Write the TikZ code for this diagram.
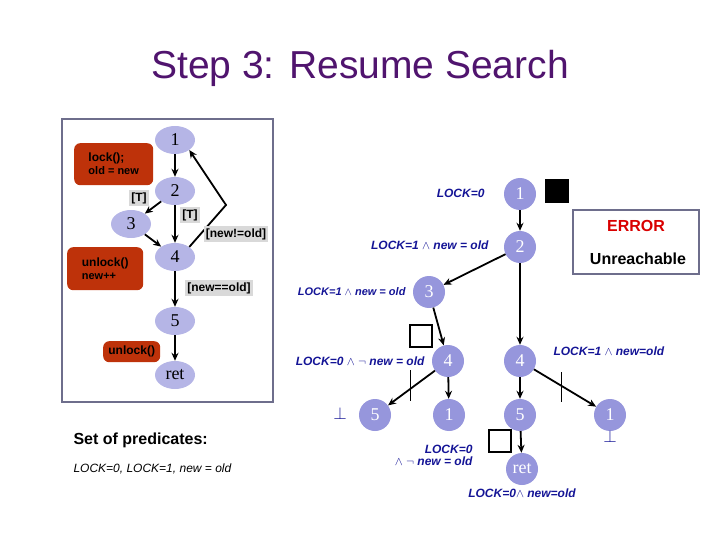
\documentclass[tikz,border=0pt]{standalone}
\usepackage{fontspec}
\setmainfont{Liberation Sans}
\usetikzlibrary{arrows.meta,shapes.geometric}
\definecolor{navy}{RGB}{20,20,150}
\definecolor{ttl}{RGB}{80,20,110}
\definecolor{nodec}{RGB}{150,150,220}
\definecolor{orng}{RGB}{190,50,10}
\definecolor{frm}{RGB}{110,110,140}
\begin{document}
\begin{tikzpicture}[x=1pt,y=-1pt,
  cfn/.style={ellipse,fill=nodec!70,minimum width=40,minimum height=28,inner sep=0,font=\fontspec{Liberation Serif}\fontsize{18}{18}\selectfont},
  tn/.style={circle,fill=nodec,minimum size=32,inner sep=0,text=white,font=\fontspec{Liberation Serif}\fontsize{18}{18}\selectfont},
  ed/.style={-{Stealth[length=8pt,width=7pt]},line width=1.8pt},
  act/.style={rounded corners=6pt,fill=orng,text=black,font=\bfseries\fontsize{12}{16}\selectfont,align=left,anchor=north west,inner sep=4pt},
  grd/.style={fill=black!15,font=\bfseries\fontsize{12}{12}\selectfont,inner sep=2pt},
  lab/.style={text=navy,font=\bfseries\itshape\fontsize{12}{12}\selectfont},
  slab/.style={text=navy,font=\bfseries\itshape\fontsize{11}{11}\selectfont},
  bx/.style={draw,line width=2pt,minimum size=22,inner sep=0}]
\useasboundingbox (0,0) rectangle (720,540);
\node[text=ttl,font=\fontsize{39}{39}\selectfont] (title) at (360,68) {Step 3: Resume Search};
% left panel
\draw[frm,line width=2.5pt] (62,119) rectangle (273,402);
\node[act,minimum width=79,minimum height=42] (a1) at (74,143) {lock();\\[-3pt]{\fontsize{11}{11}\selectfont old = new}};
\node[act,minimum width=76,minimum height=43] (a2) at (67,247) {unlock()\\[-3pt]{\fontsize{11}{11}\selectfont new++}};
\node[act,minimum width=57,minimum height=21,inner sep=2pt] (a3) at (103,341) {unlock()};
\node[cfn] (c1) at (175,140) {1};
\node[cfn] (c2) at (175,191) {2};
\node[cfn] (c3) at (131,224) {3};
\node[cfn] (c4) at (175,257) {4};
\node[cfn] (c5) at (175,321) {5};
\node[cfn] (cr) at (175,375) {ret};
\draw[ed] (c1) -- (c2);
\draw[ed] (c2) -- (c3);
\draw[ed] (c2) -- (c4);
\draw[ed] (c3) -- (c4);
\draw[ed] (c4) -- (c5);
\draw[ed] (c5) -- (cr);
\coordinate (bk) at (226,205);
\draw[ed] (c4.north east) -- (bk) -- (c1.south east);
\node[grd] (g1) at (139,198) {[T]};
\node[grd] (g2) at (190,215) {[T]};
\node[grd] (g3) at (236,234) {[new!=old]};
\node[grd] (g4) at (219,288) {[new==old]};
\node[anchor=west,font=\bfseries\fontsize{16}{16}\selectfont] (sp) at (70,440) {Set of predicates:};
\node[anchor=west,font=\itshape\fontsize{12}{12}\selectfont] (pl) at (70,469) {LOCK=0, LOCK=1, new = old};
% tree
\node[tn] (t1) at (520,194) {1};
\node[tn] (t2) at (520,247) {2};
\node[tn] (t3) at (429,292) {3};
\node[tn] (t4a) at (448,361) {4};
\node[tn] (t4b) at (520,361) {4};
\node[tn] (t5a) at (375,415) {5};
\node[tn] (t1a) at (449,415) {1};
\node[tn] (t5b) at (520,415) {5};
\node[tn] (t1b) at (610,415) {1};
\node[tn] (tr) at (522,469) {ret};
\draw[ed] (t1) -- (t2);
\draw[ed] (t2) -- (t3);
\draw[ed] (t2) -- (t4b);
\draw[ed] (t3) -- (t4a);
\draw[ed] (t4a) -- (t5a);
\draw[ed] (t4a) -- (t1a);
\draw[ed] (t4b) -- (t5b);
\draw[ed] (t4b) -- (t1b);
\draw[ed] (t5b) -- (tr);
\coordinate (k1) at (410,370); \coordinate (k2) at (410,401);
\coordinate (k3) at (561,372); \coordinate (k4) at (561,402);
\draw[line width=0.8pt] (k1) -- (k2);
\draw[line width=0.8pt] (k3) -- (k4);
\node[bx,fill=black] (b1) at (557,191) {};
\node[bx] (b2) at (421,336) {};
\node[bx] (b3) at (500,441) {};
\node[draw=frm,line width=2pt,minimum width=126,minimum height=64,inner sep=0] (eb) at (636,242) {};
\node[text=red!85!black,font=\bfseries\fontsize{16}{16}\selectfont] (er) at (636,226) {ERROR};
\node[font=\bfseries\fontsize{16}{16}\selectfont] (un) at (638,259) {Unreachable};
\node[lab,anchor=east] (l1) at (488,193) {LOCK=0};
\node[lab,anchor=east] (l2) at (492,245) {LOCK=1 $\wedge$ new = old};
\node[slab,anchor=east] (l3) at (409,292) {LOCK=1 $\wedge$ new = old};
\node[lab,anchor=east] (l4) at (428,361) {LOCK=0 $\wedge$ $\neg$ new = old};
\node[lab,anchor=west] (l5) at (550,351) {LOCK=1 $\wedge$ new=old};
\node[lab,align=right,anchor=east] (l6) at (476,455) {LOCK=0\\$\wedge$ $\neg$ new = old};
\node[lab] (l7) at (522,493) {LOCK=0$\wedge$ new=old};
\node[text=navy,font=\fontsize{16}{16}\selectfont] (bt1) at (340,413) {$\bot$};
\node[text=navy,font=\fontsize{16}{16}\selectfont] (bt2) at (610,436) {$\bot$};
\end{tikzpicture}
\end{document}
